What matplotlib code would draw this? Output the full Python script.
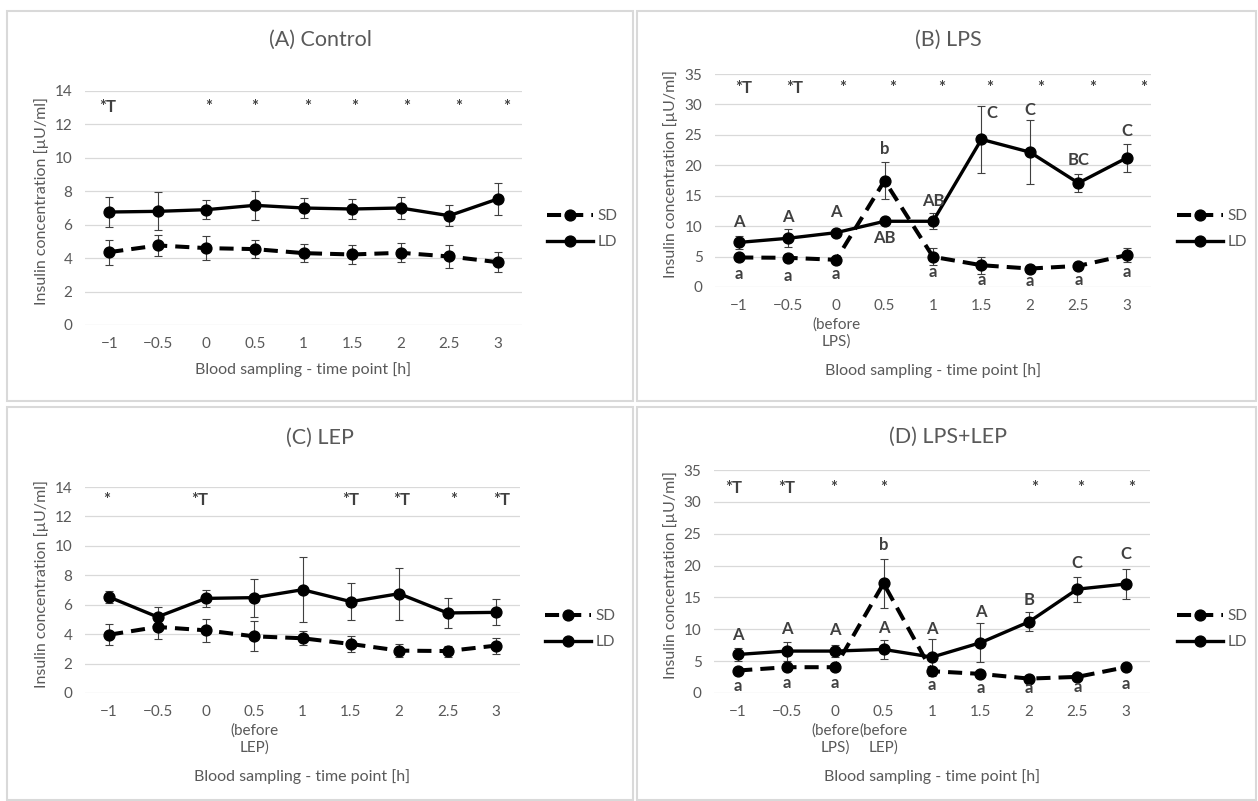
import matplotlib
matplotlib.use("Agg")
import matplotlib.pyplot as plt
from matplotlib.lines import Line2D
from matplotlib.patches import Rectangle

# ---------------- data ----------------
times = ["\u22121", "\u22120.5", "0", "0.5", "1", "1.5", "2", "2.5", "3"]

ctrl_sd = [4.36, 4.76, 4.60, 4.54, 4.30, 4.22, 4.32, 4.10, 3.76]
ctrl_sd_err = [0.75, 0.65, 0.74, 0.56, 0.56, 0.59, 0.58, 0.70, 0.59]
ctrl_ld = [6.76, 6.80, 6.90, 7.16, 7.00, 6.94, 7.00, 6.54, 7.54]
ctrl_ld_err = [0.91, 1.13, 0.56, 0.85, 0.62, 0.59, 0.63, 0.61, 0.97]

lps_sd = [4.85, 4.80, 4.47, 17.47, 4.96, 3.58, 3.03, 3.47, 5.24]
lps_sd_err = [0.6, 0.7, 0.4, 3.0, 1.4, 1.4, 0.5, 0.5, 1.2]
lps_ld = [7.33, 8.00, 8.93, 10.80, 10.80, 24.26, 22.16, 17.09, 21.22]
lps_ld_err = [1.1, 1.5, 0.5, 0.5, 1.3, 5.5, 5.2, 1.5, 2.25]

lep_sd = [3.96, 4.49, 4.26, 3.85, 3.72, 3.33, 2.88, 2.85, 3.22]
lep_sd_err = [0.72, 0.80, 0.79, 1.02, 0.48, 0.56, 0.45, 0.37, 0.54]
lep_ld = [6.52, 5.17, 6.43, 6.48, 7.02, 6.21, 6.75, 5.44, 5.48]
lep_ld_err = [0.43, 0.67, 0.57, 1.30, 2.20, 1.26, 1.76, 1.05, 0.89]

lpslep_sd = [3.53, 4.05, 4.05, 17.20, 3.42, 3.00, 2.26, 2.53, 4.05]
lpslep_sd_err = [0.4, 0.4, 0.4, 3.9, 0.5, 0.5, 0.4, 0.4, 0.5]
lpslep_ld = [6.05, 6.58, 6.58, 6.84, 5.63, 7.89, 11.16, 16.30, 17.10]
lpslep_ld_err = [1.05, 1.5, 1.0, 1.5, 2.9, 3.05, 1.5, 1.95, 2.3]

# significance between SD and LD (per time point)
ctrl_marks = ["*T", "", "*", "*", "*", "*", "*", "*", "*"]
lps_marks = ["*T", "*T", "*", "*", "*", "*", "*", "*", "*"]
lep_marks = ["*", "", "*T", "", "", "*T", "*T", "*", "*T"]
lpslep_marks = ["*T", "*T", "*", "*", "", "", "*", "*", "*"]

# differences between time points within a group
lps_ld_letters = ["A", "A", "A", "AB", "AB", "C", "C", "BC", "C"]
lps_sd_letters = ["a", "a", "a", "b", "a", "a", "a", "a", "a"]
lpslep_ld_letters = ["A", "A", "A", "A", "A", "A", "B", "C", "C"]
lpslep_sd_letters = ["a", "a", "a", "b", "a", "a", "a", "a", "a"]

# ---------------- styling ----------------
FONT = ["Lato", "DejaVu Sans"]
plt.rcParams["font.family"] = FONT
GRAY = "#595959"
DARK = "#404040"
GRID = "#D9D9D9"

W, H = 1258, 801
fig = plt.figure(figsize=(W / 100, H / 100), dpi=100)


def fx(px):
    return px / W


def fy(py):
    return 1 - py / H


def make_axes(l, t, r, b):
    return fig.add_axes([fx(l), fy(b), fx(r) - fx(l), fy(t) - fy(b)])


# panel frames
for (x0, y0, x1, y1) in [(7, 11, 633, 401), (637, 11, 1256, 401),
                         (7, 407, 633, 800), (637, 407, 1256, 800)]:
    fig.patches.append(Rectangle((fx(x0), fy(y1)), fx(x1) - fx(x0), fy(y0) - fy(y1),
                                 transform=fig.transFigure, fill=False,
                                 edgecolor=GRID, linewidth=1.5))

panels = [
    dict(title="(A) Control", box=(85, 91, 522, 325), ymax=14, ystep=2,
         sd=ctrl_sd, sde=ctrl_sd_err, ld=ctrl_ld, lde=ctrl_ld_err,
         marks=ctrl_marks, mark_y=12.75,
         mark_dx=[-0.04, 0, 0.04, 0.0, 0.09, 0.06, 0.12, 0.19, 0.18],
         labels=times, title_xy=(320, 40), xlab_y=370, ylab_x=42,
         legend_xy=(547, 229)),
    dict(title="(B) LPS", box=(715, 74, 1151, 287), ymax=35, ystep=5,
         sd=lps_sd, sde=lps_sd_err, ld=lps_ld, lde=lps_ld_err,
         marks=lps_marks, mark_y=31.9,
         mark_dx=[0.09, 0.15, 0.14, 0.17, 0.17, 0.16, 0.22, 0.29, 0.35],
         labels=[t if i != 2 else "0\n(before\nLPS)" for i, t in enumerate(times)],
         title_xy=(948, 40), xlab_y=371, ylab_x=671,
         legend_xy=(1177, 229),
         up=lps_ld_letters, up_y=[10.75, 11.47, 12.4, 8.0, 14.06, 28.55, 29.05, 20.8, 25.6],
         up_dx=[0, 0, 0, 0, 0, 0.22, 0, 0, 0],
         low=lps_sd_letters, low_y=[2.2, 1.87, 2.2, 22.6, 2.48, 1.2, 0.94, 1.2, 2.48]),
    dict(title="(C) LEP", box=(85, 487, 520, 693), ymax=14, ystep=2,
         sd=lep_sd, sde=lep_sd_err, ld=lep_ld, lde=lep_ld_err,
         marks=lep_marks, mark_y=12.8,
         mark_dx=[-0.06, 0, -0.12, 0, 0, 0, 0.05, 0.12, 0.13],
         labels=[t if i != 3 else "0.5\n(before\nLEP)" for i, t in enumerate(times)],
         title_xy=(320, 438), xlab_y=777, ylab_x=42,
         legend_xy=(545, 629)),
    dict(title="(D) LPS+LEP", box=(714, 470, 1150, 693), ymax=35, ystep=5,
         sd=lpslep_sd, sde=lpslep_sd_err, ld=lpslep_ld, lde=lpslep_ld_err,
         marks=lpslep_marks, mark_y=31.4,
         mark_dx=[-0.1, 0, -0.03, 0, 0, 0, 0.11, 0.07, 0.12],
         labels=[{2: "0\n(before\nLPS)", 3: "0.5\n(before\nLEP)"}.get(i, t)
                 for i, t in enumerate(times)],
         title_xy=(948, 437), xlab_y=777, ylab_x=671,
         legend_xy=(1177, 629),
         up=lpslep_ld_letters, up_y=[9.1, 10.0, 9.84, 10.26, 10.0, 12.74, 14.58, 20.37, 21.74],
         up_dx=[0] * 9,
         low=lpslep_sd_letters, low_y=[1.16, 1.58, 1.58, 23.26, 1.32, 0.79, 0.79, 0.95, 1.47]),
]

x = list(range(len(times)))
SD_DASH = (3.5, 2.0)

for p in panels:
    l, t, r, b = p["box"]
    ax = make_axes(l, t, r, b)
    ax.set_xlim(-0.5, len(times) - 0.5)
    ax.set_ylim(0, p["ymax"])
    ax.set_yticks(range(0, p["ymax"] + 1, p["ystep"]))
    ax.set_xticks(x)
    ax.set_xticklabels(p["labels"], linespacing=1.3)
    ax.tick_params(length=0, labelsize=11, labelcolor=GRAY, pad=9)
    for s in ax.spines.values():
        s.set_visible(False)
    ax.yaxis.grid(True, color=GRID, linewidth=0.9)
    ax.set_axisbelow(True)

    # error bars
    for y, e in ((p["sd"], p["sde"]), (p["ld"], p["lde"])):
        ax.errorbar(x, y, yerr=e, fmt="none", ecolor=DARK, elinewidth=0.8,
                    capsize=3, capthick=0.8, zorder=2)
    # series
    ax.plot(x, p["sd"], color="black", linewidth=2.9, dashes=SD_DASH,
            marker="o", markersize=7.8, zorder=3)
    ax.plot(x, p["ld"], color="black", linewidth=2.4, marker="o",
            markersize=7.8, zorder=3)

    # significance marks
    for i, m in enumerate(p["marks"]):
        if m:
            ax.text(i + p["mark_dx"][i], p["mark_y"], m, ha="center", va="baseline",
                    fontsize=12, fontweight="bold", color=DARK)

    # letters
    if "up" in p:
        for i, s in enumerate(p["up"]):
            ax.text(i + p["up_dx"][i], p["up_y"][i], s, ha="center", va="center",
                    fontsize=12, fontweight="bold", color=DARK, zorder=4)
        for i, s in enumerate(p["low"]):
            ax.text(i, p["low_y"][i], s, ha="center", va="center",
                    fontsize=12, fontweight="bold", color=DARK, zorder=4)

    # titles and axis labels
    fig.text(fx(p["title_xy"][0]), fy(p["title_xy"][1]), p["title"], ha="center",
             va="center", fontsize=15.5, color=GRAY)
    ax.set_xlabel("Blood sampling - time point [h]", fontsize=11.5, color=GRAY)
    ax.xaxis.set_label_coords(0.5, (b - p["xlab_y"]) / (b - t))
    ax.xaxis.label.set_verticalalignment("center")
    ax.set_ylabel("Insulin concentration [\u00b5U/ml]", fontsize=11.5, color=GRAY)
    ax.yaxis.set_label_coords((p["ylab_x"] - l) / (r - l), 0.53)
    ax.yaxis.label.set_verticalalignment("center")

    handles = [
        Line2D([], [], color="black", linewidth=2.9, dashes=SD_DASH, marker="o",
               markersize=7.8),
        Line2D([], [], color="black", linewidth=2.4, marker="o", markersize=7.8),
    ]
    lx, ly = p["legend_xy"]
    ax.legend(handles, ["SD", "LD"], loc="center left",
              bbox_to_anchor=(fx(lx), fy(ly)), bbox_transform=fig.transFigure,
              frameon=False, fontsize=11, labelcolor=GRAY, handlelength=3.0,
              handletextpad=0.3, labelspacing=0.8, borderpad=0, borderaxespad=0)

fig.savefig("out.png", dpi=100, facecolor="white")
